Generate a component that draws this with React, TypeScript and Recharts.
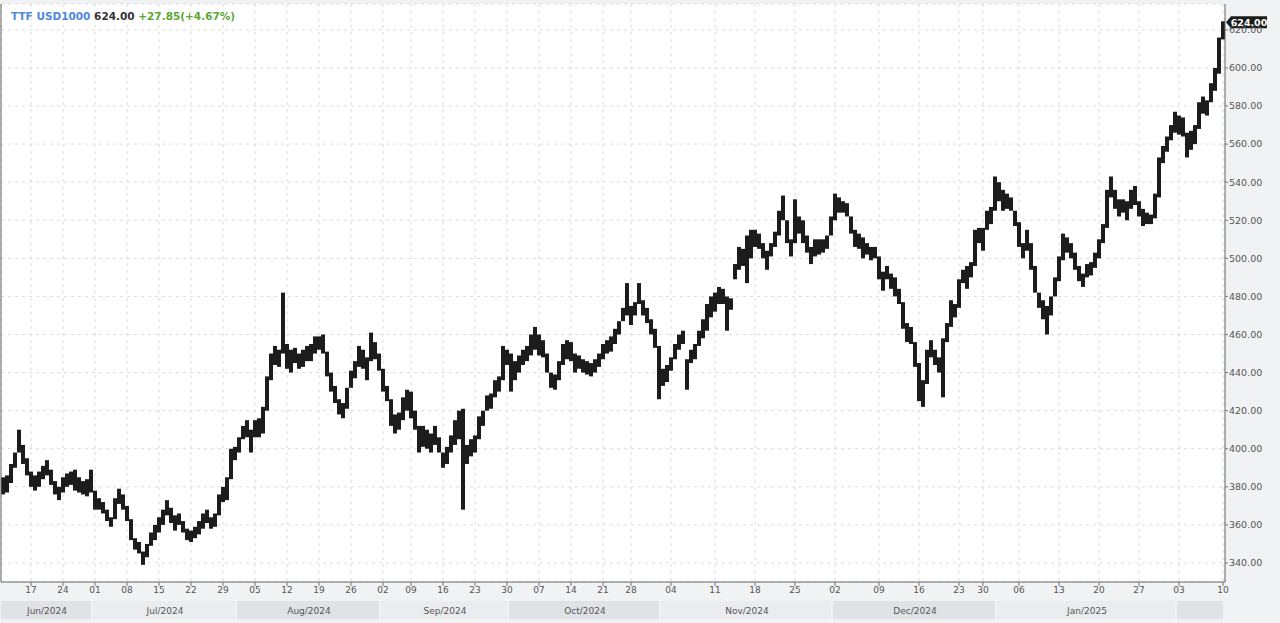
import { ComposedChart, Bar, XAxis, YAxis, CartesianGrid, ReferenceLine } from "recharts"

// bar lows / highs (USD per 1000 m3)
const lows = [
  376, 377, 382, 390, 398, 392, 386, 380, 378, 380, 384, 386, 381, 376, 373, 377, 380, 381, 378, 377,
  376, 375, 377, 368, 368, 366, 362, 359, 363, 371, 368, 362, 352, 347, 345, 339, 343, 349, 352, 356,
  360, 365, 361, 357, 360, 356, 352, 351, 353, 355, 358, 361, 358, 359, 365, 372, 373, 384, 394, 398,
  405, 406, 398, 406, 406, 408, 420, 436, 444, 443, 450, 442, 440, 445, 442, 443, 446,
  446, 450, 452, 450, 438, 430, 424, 418, 416, 421, 432, 437, 443, 442, 436, 446, 447, 441, 430, 425,
  412, 408, 410, 415, 420, 416, 410, 398, 401, 400, 398, 402, 398, 390, 392, 398, 402, 405, 368, 392,
  396, 398, 405, 412, 420, 421, 427, 430, 436, 444, 430, 436, 440, 444, 446, 449, 452, 449, 448, 440,
  432, 431, 436, 444, 447, 446, 440, 442, 440, 439, 438, 440, 443, 447, 450,
  451, 455, 460, 467, 470, 465, 470, 476, 470, 466, 460, 453, 426, 433, 435, 441, 447, 452, 455, 431,
  445, 447, 454, 458, 462, 469, 472, 476, 476, 462, 473, 489, 494, 496, 487, 500, 506, 505, 500, 494,
  501, 506, 512, 520, 508, 501, 508, 513, 508, 503, 497, 501, 502, 503, 505, 512, 520, 524, 524, 522,
  513, 506, 505, 500, 502, 499, 500, 489, 483, 489, 484, 480, 476, 463, 456,
  455, 443, 425, 422, 434, 448, 444, 440, 427, 456, 464, 469, 474, 487, 484, 490, 496, 508, 504, 515,
  518, 525, 530, 525, 526, 525, 517, 506, 500, 504, 494, 482, 474, 468, 460, 470, 480, 488, 499, 503,
  500, 494, 488, 485, 490, 491, 495, 500, 508, 516, 532, 526, 522, 524, 520, 526, 528, 522, 517, 518,
  518, 521, 532, 550, 556, 562, 566, 565, 564, 553, 557, 560, 568, 576, 575, 582, 588, 597, 615,
]
const highs = [
  385, 386, 392, 398, 410, 402, 395, 388, 386, 388, 391, 394, 389, 383, 380, 385, 387, 388, 389, 385,
  383, 384, 389, 378, 374, 372, 368, 364, 374, 379, 376, 370, 363, 353, 351, 346, 350, 356, 360, 364,
  368, 373, 369, 365, 366, 362, 358, 357, 359, 362, 366, 368, 364, 366, 376, 380, 385, 400, 401, 406,
  412, 415, 410, 415, 416, 422, 438, 450, 454, 452, 482, 455, 452, 453, 450, 452, 454,
  455, 459, 459, 460, 451, 440, 433, 426, 424, 432, 441, 446, 454, 452, 448, 461, 456, 450, 442, 433,
  426, 418, 419, 427, 431, 430, 420, 412, 412, 410, 408, 412, 406, 398, 401, 407, 415, 420, 421, 402,
  405, 407, 417, 420, 428, 429, 436, 438, 454, 452, 450, 446, 449, 452, 454, 460, 464, 460, 457, 450,
  440, 439, 446, 455, 457, 456, 450, 449, 447, 446, 445, 447, 450, 455, 457,
  459, 463, 467, 474, 487, 475, 477, 487, 478, 474, 468, 463, 454, 442, 444, 448, 455, 460, 462, 447,
  452, 455, 462, 468, 476, 480, 482, 485, 484, 480, 479, 497, 506, 505, 512, 515, 515, 513, 508, 504,
  508, 514, 525, 533, 520, 510, 531, 522, 520, 512, 506, 510, 510, 510, 512, 522, 534, 532, 530, 529,
  522, 515, 513, 511, 508, 506, 506, 501, 493, 496, 492, 490, 484, 477, 466,
  464, 456, 445, 436, 452, 457, 452, 448, 458, 466, 478, 476, 489, 494, 496, 498, 515, 516, 516, 525,
  527, 543, 540, 536, 534, 532, 525, 519, 508, 515, 508, 496, 482, 478, 475, 480, 490, 501, 513, 511,
  508, 503, 496, 492, 497, 498, 503, 510, 518, 536, 543, 536, 531, 531, 530, 536, 538, 530, 526, 524,
  523, 534, 553, 559, 564, 570, 577, 575, 574, 566, 567, 570, 582, 585, 583, 592, 600, 616, 624.5,
]

// week tick labels and the number of bars in each week (first entry: partial week before Jun 17)
const weekLabels = [
  "", "17", "24", "01", "08", "15", "22", "29", "05", "12", "19", "26", "02", "09", "16", "23", "30", "07",
  "14", "21", "28", "04", "11", "18", "25", "02", "09", "16", "23", "30", "06", "13", "20", "27", "03", "10",
]
const weekBars = [7, 8, 8, 8, 8, 8, 8, 8, 8, 8, 8, 8, 7, 8, 8, 8, 8, 8, 8, 7, 10, 11, 10, 10, 10, 11, 10, 10, 6, 9, 10, 10, 10, 10, 11, 1]

const months = ["Jun/2024", "Jul/2024", "Aug/2024", "Sep/2024", "Oct/2024", "Nov/2024", "Dec/2024", "Jan/2025", ""]
const monthStart = [0, 23, 59, 95, 127, 165, 208, 249, 294]

const yTicks = [340, 360, 380, 400, 420, 440, 460, 480, 500, 520, 540, 560, 580, 600, 620]
const lastPrice = 624.0

const data = lows.map((lo, i) => ({ i, range: [lo, highs[i]] }))

const weekStarts: number[] = []
const tickLabel: Record<number, string> = {}
let acc = 0
weekBars.forEach((n, k) => {
  if (k > 0) {
    weekStarts.push(acc)
    tickLabel[acc] = weekLabels[k]
  }
  acc += n
})

const PLOT_W = 1224
const BAR_W = PLOT_W / data.length
const FONT = "DejaVu Sans"

function MonthTick(props: any) {
  const { x, y, payload } = props
  const k = monthStart.indexOf(payload.value)
  const end = k + 1 < monthStart.length ? monthStart[k + 1] : data.length
  const left = x - BAR_W / 2
  const w = (end - payload.value) * BAR_W
  return (
    <g>
      <rect x={left} y={y + 1} width={w - 2} height={18} fill={k % 2 === 0 ? "#e1e2e5" : "#ebecef"} />
      <text x={left + w / 2} y={y + 14} textAnchor="middle" fontSize={9} fontFamily={FONT} fill="#555">
        {months[k]}
      </text>
    </g>
  )
}

function PriceTag(props: any) {
  const vb = props.viewBox
  if (!vb) return null
  const x0 = vb.x + vb.width + 1
  const y = vb.y
  return (
    <g>
      <polygon
        points={`${x0},${y} ${x0 + 5},${y - 6} ${x0 + 41},${y - 6} ${x0 + 41},${y + 6} ${x0 + 5},${y + 6}`}
        fill="#1b1b1b"
      />
      <text x={x0 + 23} y={y + 3.5} textAnchor="middle" fontSize={9.5} fontFamily={FONT} fontWeight="bold" fill="#fff">
        {lastPrice.toFixed(2)}
      </text>
    </g>
  )
}

export default function App() {
  return (
    <div style={{ position: "absolute", left: 0, top: 0, width: 1280, height: 623, background: "#f1f2f4", fontFamily: FONT }}>
      <ComposedChart width={1280} height={623} data={data} margin={{ top: 4, right: 0, bottom: 2, left: 0 }} barCategoryGap={0}>
        <CartesianGrid stroke="#dcdcdc" strokeDasharray="3 4" fill="#fff" />
        <XAxis
          dataKey="i"
          ticks={weekStarts}
          interval={0}
          tickFormatter={(v: number) => tickLabel[v] ?? ""}
          tick={{ fontSize: 9, fontFamily: FONT, fill: "#555" }}
          tickSize={4}
          tickMargin={1}
          tickLine={{ stroke: "#777" }}
          axisLine={{ stroke: "#666" }}
          height={18}
        />
        <XAxis
          xAxisId="month"
          dataKey="i"
          ticks={monthStart}
          interval={0}
          tick={<MonthTick />}
          tickLine={false}
          axisLine={false}
          tickSize={0}
          tickMargin={0}
          height={21}
        />
        <XAxis xAxisId="top" dataKey="i" orientation="top" height={0} tick={false} tickLine={false} axisLine={{ stroke: "#666" }} />
        <YAxis
          orientation="right"
          domain={[330, 633.6]}
          allowDataOverflow
          ticks={yTicks}
          interval={0}
          tickFormatter={(v: number) => v.toFixed(2)}
          tick={{ fontSize: 9.5, fontFamily: FONT, fill: "#555" }}
          tickSize={3}
          tickMargin={1}
          tickLine={{ stroke: "#777" }}
          axisLine={{ stroke: "#666" }}
          width={55}
        />
        <YAxis yAxisId="frame" orientation="left" width={1} tick={false} tickLine={false} axisLine={{ stroke: "#666" }} />
        <Bar dataKey="range" fill="#1c1c1c" isAnimationActive={false} />
        <ReferenceLine y={lastPrice} stroke="none" label={<PriceTag />} />
      </ComposedChart>
      <div style={{ position: "absolute", left: 11, top: 10, fontSize: 10.5, fontWeight: "bold", lineHeight: "12px", whiteSpace: "nowrap" }}>
        <span style={{ color: "#5087dc" }}>TTF USD1000</span> <span style={{ color: "#333" }}>624.00</span>{" "}
        <span style={{ color: "#5aa834" }}>+27.85(+4.67%)</span>
      </div>
    </div>
  )
}
